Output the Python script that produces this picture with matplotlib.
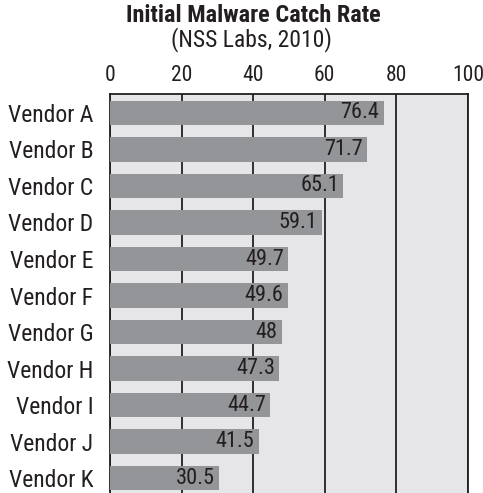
import matplotlib
matplotlib.use("Agg")
import matplotlib.pyplot as plt

vendors = ["Vendor A", "Vendor B", "Vendor C", "Vendor D", "Vendor E", "Vendor F",
           "Vendor G", "Vendor H", "Vendor I", "Vendor J", "Vendor K"]
catch_rate = [76.4, 71.7, 65.1, 59.1, 49.7, 49.6, 48, 47.3, 44.7, 41.5, 30.5]
x_ticks = [0, 20, 40, 60, 80, 100]

plt.rcParams["font.family"] = ["Roboto Condensed", "Liberation Sans Narrow", "DejaVu Sans"]
plt.rcParams["font.stretch"] = "condensed"

fig = plt.figure(figsize=(4.83, 4.93), dpi=100)
ax = fig.add_axes([110 / 483, 0, 358 / 483, 1 - 94 / 493])
ax.set_facecolor("#e6e6e8")

pos = list(range(len(vendors)))
ax.barh(pos, catch_rate, height=0.66, color="#939598", zorder=3)
for y, v in zip(pos, catch_rate):
    label = f"{v:g}"
    ax.annotate(label, (v, y), xytext=(-3, 0), textcoords="offset points",
                ha="right", va="center", fontsize=16, color="#231f20", zorder=4)

ax.set_xlim(0, 100)
ax.set_ylim(10.41, -0.52)
ax.set_xticks(x_ticks)
ax.set_yticks(pos)
ax.set_yticklabels(vendors)
ax.xaxis.tick_top()
ax.tick_params(axis="x", length=0, pad=6, labelsize=15.5, colors="#231f20")
ax.tick_params(axis="y", length=0, pad=12, labelsize=17, colors="#231f20")
ax.grid(axis="x", color="#231f20", linewidth=1.3, zorder=1)
for side in ["top", "left", "right"]:
    ax.spines[side].set_color("#231f20")
    ax.spines[side].set_linewidth(1.3)
ax.spines["bottom"].set_visible(False)

fig.text(253 / 483, 1 - 16 / 493, "Initial Malware Catch Rate", ha="center", va="center",
         fontsize=17.5, fontweight="bold", color="#231f20")
fig.text(251 / 483, 1 - 40 / 493, "(NSS Labs, 2010)", ha="center", va="center",
         fontsize=17, color="#231f20")

fig.savefig("out.png", dpi=100)
